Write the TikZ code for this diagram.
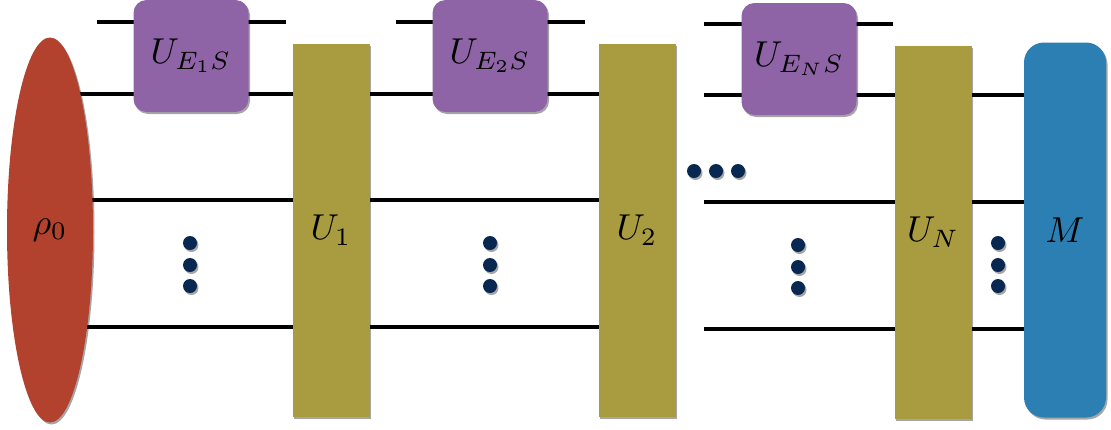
\documentclass[tikz,border=0pt]{standalone}
\usepackage{graphicx}
\usetikzlibrary{shapes.geometric,shadows,backgrounds}
\definecolor{rhored}{RGB}{178,65,46}
\definecolor{envpurple}{RGB}{142,100,166}
\definecolor{unitolive}{RGB}{169,156,64}
\definecolor{measblue}{RGB}{44,127,178}
\definecolor{dotnavy}{RGB}{8,40,82}
\newcommand{\gatelabel}[1]{\scalebox{3.6}{$#1$}}

\begin{document}
\begin{tikzpicture}[x=1pt,y=-1pt,
  shade/.style={drop shadow={shadow xshift=1.5pt,shadow yshift=-2pt,opacity=0.35,fill=black}},
  wire/.style={line width=4.5pt},
  envbox/.style={rectangle,rounded corners=13pt,fill=envpurple,minimum width=115pt,minimum height=112pt,inner sep=0pt,shade},
  unitbar/.style={rectangle,fill=unitolive,minimum width=77pt,minimum height=373pt,inner sep=0pt,shade},
  dotmark/.style={circle,fill=dotnavy,minimum size=14pt,inner sep=0pt,shade}]
  \useasboundingbox (0,0) rectangle (1111,429);
  \node[ellipse,fill=rhored,minimum width=86pt,minimum height=385pt,inner sep=0pt,shade] (rho) at (50,230) {\gatelabel{\rho_0}};
  \node[envbox] (E1) at (191,56) {\gatelabel{U_{E_1S}}};
  \node[envbox] (E2) at (490,56) {\gatelabel{U_{E_2S}}};
  \node[envbox] (EN) at (799,59) {\gatelabel{U_{E_NS}}};
  \node[unitbar] (U1) at (331,230) {\gatelabel{U_1}};
  \node[unitbar] (U2) at (637,230) {\gatelabel{U_2}};
  \node[unitbar] (UN) at (933,232) {\gatelabel{U_N}};
  \node[rectangle,rounded corners=20pt,fill=measblue,minimum width=82pt,minimum height=375pt,inner sep=0pt,shade] (M) at (1065,230) {\gatelabel{M}};
  % dots
  \node[dotmark] (a1) at (190,243) {};
  \node[dotmark] (a2) at (190,265) {};
  \node[dotmark] (a3) at (190,286) {};
  \node[dotmark] (b1) at (490,243) {};
  \node[dotmark] (b2) at (490,265) {};
  \node[dotmark] (b3) at (490,286) {};
  \node[dotmark] (c1) at (798,245) {};
  \node[dotmark] (c2) at (798,267) {};
  \node[dotmark] (c3) at (798,288) {};
  \node[dotmark] (d1) at (998,243) {};
  \node[dotmark] (d2) at (998,265) {};
  \node[dotmark] (d3) at (998,286) {};
  \node[dotmark] (h1) at (694,171) {};
  \node[dotmark] (h2) at (716,171) {};
  \node[dotmark] (h3) at (738,171) {};
  % wire ends
  \coordinate (w1) at (0,94);
  \coordinate (w2) at (0,200);
  \coordinate (w3) at (0,327);
  \coordinate (e1in) at (97,22);
  \coordinate (e1out) at (286,22);
  \coordinate (e2in) at (396,22);
  \coordinate (e2out) at (585,22);
  \coordinate (eNin) at (704,24);
  \coordinate (eNout) at (893,24);
  \coordinate (r1) at (704,95);
  \coordinate (r2) at (704,202);
  \coordinate (r3) at (704,329);
  \begin{scope}[on background layer]
    \draw[wire] (rho |- w1) -- (U2 |- w1);
    \draw[wire] (rho |- w2) -- (U2 |- w2);
    \draw[wire] (rho |- w3) -- (U2 |- w3);
    \draw[wire] (e1in) -- (e1out);
    \draw[wire] (e2in) -- (e2out);
    \draw[wire] (eNin) -- (eNout);
    \draw[wire] (r1) -- (M |- r1);
    \draw[wire] (r2) -- (M |- r2);
    \draw[wire] (r3) -- (M |- r3);
  \end{scope}
\end{tikzpicture}
\end{document}
